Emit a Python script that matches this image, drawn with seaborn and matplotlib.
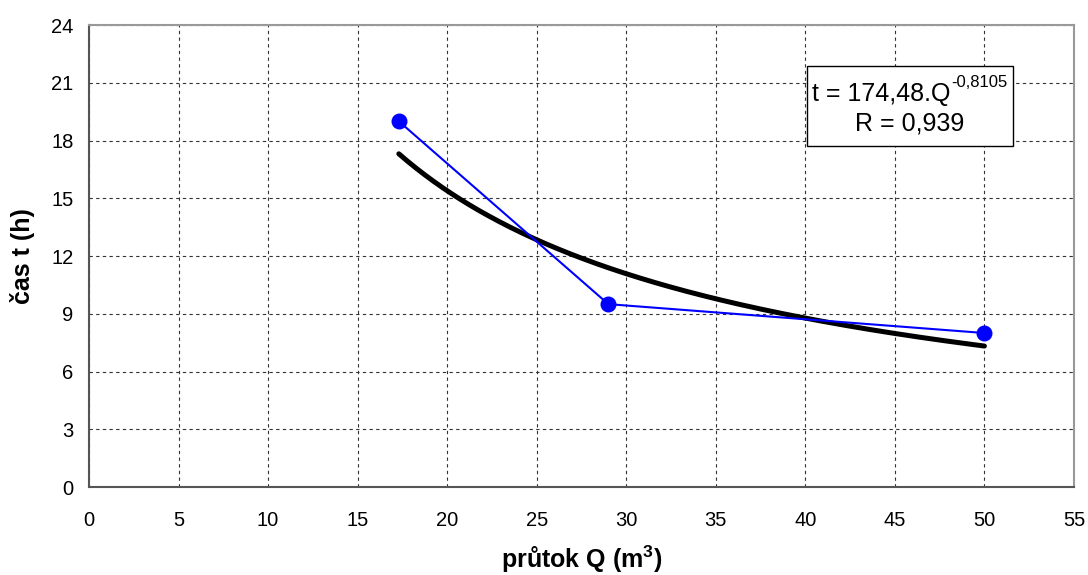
import numpy as np
import pandas as pd
import matplotlib
matplotlib.use("Agg")
import matplotlib.pyplot as plt
import matplotlib.patches as mpatches
import seaborn as sns

# measured points
prutok = [17.3, 29.0, 50.0]
cas = [19.0, 9.5, 8.0]

# power trendline shown in the chart: t = a.Q^b
coef_a = 174.48
coef_b = -0.8105
r_value = "0,939"

x_ticks = list(range(0, 56, 5))
y_ticks = list(range(0, 25, 3))

sns.set_style("white")
plt.rcParams["font.family"] = ["Liberation Sans", "DejaVu Sans"]
plt.rcParams["mathtext.fontset"] = "custom"
plt.rcParams["mathtext.rm"] = "Liberation Sans"
plt.rcParams["mathtext.bf"] = "Liberation Sans:bold"
plt.rcParams["text.color"] = "black"

df = pd.DataFrame({"Q": prutok, "t": cas})
q_fit = np.linspace(min(prutok), max(prutok), 200)
df_fit = pd.DataFrame({"Q": q_fit, "t": coef_a * q_fit ** coef_b})

fig, ax = plt.subplots(figsize=(10.88, 5.75), dpi=100)
fig.subplots_adjust(left=0.0818, right=0.9871, top=0.9565, bottom=0.153)

sns.lineplot(data=df, x="Q", y="t", ax=ax, color="#0000FF", linewidth=1.5,
             marker="o", markersize=11.5, markeredgewidth=0, zorder=3)
sns.lineplot(data=df_fit, x="Q", y="t", ax=ax, color="black", linewidth=3.6,
             solid_capstyle="round", zorder=2)

ax.set_xlim(0, 55)
ax.set_ylim(0, 24)
ax.set_xticks(x_ticks)
ax.set_yticks(y_ticks)
ax.grid(True, color="#333333", linestyle=(0, (3, 3)), linewidth=0.8)
ax.tick_params(axis="both", labelsize=14.5, direction="out", length=5,
               width=1, color="#555555", labelcolor="black", pad=6)
ax.tick_params(axis="x", pad=12)

for side in ["left", "bottom"]:
    ax.spines[side].set_color("#555555")
    ax.spines[side].set_linewidth(1.5)
for side in ["top", "right"]:
    ax.spines[side].set_color("#999999")
    ax.spines[side].set_linewidth(1.5)

ax.set_xlabel(r"průtok Q (m$^{\mathbf{3}}$)", fontsize=18, fontweight="bold",
              color="black", va="center")
ax.xaxis.set_label_coords(0.5, -0.157)
ax.set_ylabel("čas t (h)", fontsize=18, fontweight="bold", color="black", va="center")
ax.yaxis.set_label_coords(-0.068, 0.5)

# equation box
ax.add_patch(mpatches.Rectangle((0.729, 0.738), 0.209, 0.173, transform=ax.transAxes,
                                facecolor="white", edgecolor="black", linewidth=1,
                                zorder=5))
ax.text(0.734, 0.850, "t = 174,48.Q", transform=ax.transAxes, fontsize=18,
        ha="left", va="center", zorder=6)
ax.text(0.875, 0.876, "-0,8105", transform=ax.transAxes, fontsize=12,
        ha="left", va="center", zorder=6)
ax.text(0.833, 0.786, "R = " + r_value, transform=ax.transAxes, fontsize=18,
        ha="center", va="center", zorder=6)

fig.savefig("out.png", dpi=100)
